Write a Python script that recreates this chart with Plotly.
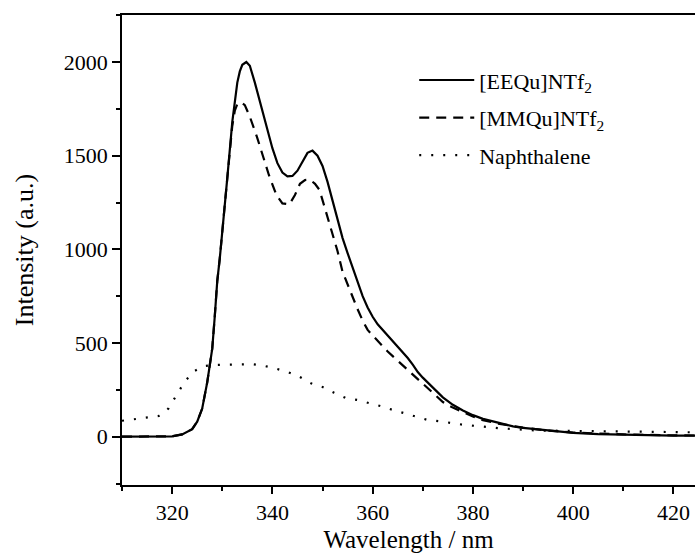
import plotly.graph_objects as go

# ---- data ----
ee_x = [310, 315, 318, 320, 322, 323, 324, 325, 326, 327, 327.5, 328, 328.5, 329, 329.5, 330,
        331, 332, 332.5, 333, 333.5, 334, 334.8, 335.5, 336.5, 337, 338, 339, 340, 341, 342,
        343, 344, 345, 346, 347, 348, 349, 350, 351, 352, 353, 354, 355, 356, 357, 358, 359,
        360, 361, 362, 363, 364, 365, 366, 367, 368, 369, 370, 372, 374, 376, 378, 380, 382,
        385, 388, 390, 395, 400, 405, 410, 415, 420, 425]
ee_y = [0, 0, 0, 2, 12, 25, 40, 80, 150, 290, 380, 470, 640, 830, 950, 1080,
        1380, 1680, 1800, 1890, 1950, 1985, 2000, 1980, 1890, 1840, 1750, 1650, 1540, 1460, 1410,
        1390, 1392, 1420, 1470, 1515, 1527, 1500, 1445, 1360, 1260, 1160, 1060, 980, 900, 820, 750, 690,
        640, 600, 570, 540, 510, 485, 455, 420, 385, 345, 315, 260, 210, 170, 140, 115, 95,
        75, 55, 47, 32, 20, 14, 10, 8, 6, 5]

mm_x = [310, 315, 318, 320, 322, 323, 324, 325, 326, 327, 327.5, 328, 328.5, 329, 329.5, 330,
        331, 332, 332.5, 333, 333.8, 334.5, 335.5, 336.9, 338.1, 339.3, 340.8, 342, 343.4, 344.5,
        345.5, 346.5, 347.5, 348.5, 349.4, 350.8, 352, 353, 354, 355, 356, 357, 358, 359, 360,
        361, 362, 363, 364, 365, 366, 367, 368, 369, 370, 372, 374, 376, 378, 380, 382, 385,
        390, 395, 400, 410, 420, 425]
mm_y = [0, 0, 0, 2, 12, 25, 40, 80, 150, 290, 380, 470, 640, 830, 950, 1080,
        1380, 1660, 1740, 1775, 1785, 1770, 1708, 1602, 1495, 1397, 1290, 1245, 1240, 1290,
        1350, 1370, 1372, 1350, 1317, 1193, 1090, 990, 880, 810, 740, 680, 620, 570, 540,
        510, 480, 455, 430, 405, 380, 355, 330, 305, 280, 235, 185, 155, 130, 108, 88, 70,
        48, 32, 22, 12, 7, 6]

na_x = [310, 312.6, 315, 317.3, 318.5, 319.3, 320.7, 322.2, 324, 326.4, 328.9, 331.2, 333.5,
        335.9, 338.2, 340.5, 343.2, 345.4, 347.7, 350.1, 352.3, 354.6, 357.1, 359.4, 362, 364,
        366.4, 368.7, 371, 373.4, 378, 382.7, 385.3, 392.6, 399.9, 408.6, 418.5, 425]
na_y = [85, 93, 100, 110, 130, 152, 214, 280, 344, 377, 383, 385, 387,
        387, 379, 365, 344, 320, 285, 264, 235, 207, 195, 180, 160, 143,
        125, 104, 89, 82, 64, 52, 45, 33, 31, 27, 23, 23]

names = ["[EEQu]NTf<sub>2</sub>", "[MMQu]NTf<sub>2</sub>", "Naphthalene"]
x_ticks = [320, 340, 360, 380, 400, 420]
y_ticks = [0, 500, 1000, 1500, 2000]

FONT = "Liberation Serif"

fig = go.Figure()
fig.add_trace(go.Scatter(x=ee_x, y=ee_y, mode="lines", name=names[0], legendgroup="a",
                         line=dict(color="black", width=2.2)))
fig.add_trace(go.Scatter(x=mm_x, y=mm_y, mode="lines", name=names[1], legendgroup="b",
                         line=dict(color="black", width=2.2, dash="10px,7px")))
fig.add_trace(go.Scatter(x=na_x, y=na_y, mode="lines", name=names[2], legendgroup="c",
                         line=dict(color="black", width=2.2, dash="2px,10px")))

axis_common = dict(showgrid=False, zeroline=False, showline=True, linecolor="black",
                   linewidth=1.5, ticks="outside", tickcolor="black", tickwidth=1.5,
                   tickfont=dict(family=FONT, size=22, color="black"))

fig.update_layout(
    width=695, height=555,
    margin=dict(l=122, r=0, t=15, b=70),
    plot_bgcolor="white", paper_bgcolor="white",
    font=dict(family=FONT, color="black"),
    xaxis=dict(range=[310, 424.3], tickvals=x_ticks, ticklen=7, mirror=True,
               minor=dict(dtick=10, tick0=310, ticklen=4, ticks="outside", tickcolor="black", tickwidth=1.5),
               title=dict(text="Wavelength / nm", font=dict(family=FONT, size=25), standoff=6),
               **axis_common),
    yaxis=dict(range=[-258, 2251], tickvals=y_ticks, ticklen=8,
               minor=dict(dtick=250, tick0=0, ticklen=4, ticks="outside", tickcolor="black", tickwidth=1.5),
               title=dict(text="Intensity (a.u.)", font=dict(family=FONT, size=26), standoff=23),
               **axis_common),
    legend=dict(x=0.51, y=0.906, xanchor="left", yanchor="top", bgcolor="rgba(0,0,0,0)",
                font=dict(family=FONT, size=22, color="black"), tracegroupgap=6,
                itemwidth=55),
    showlegend=True,
)

fig.write_html("out.html")
